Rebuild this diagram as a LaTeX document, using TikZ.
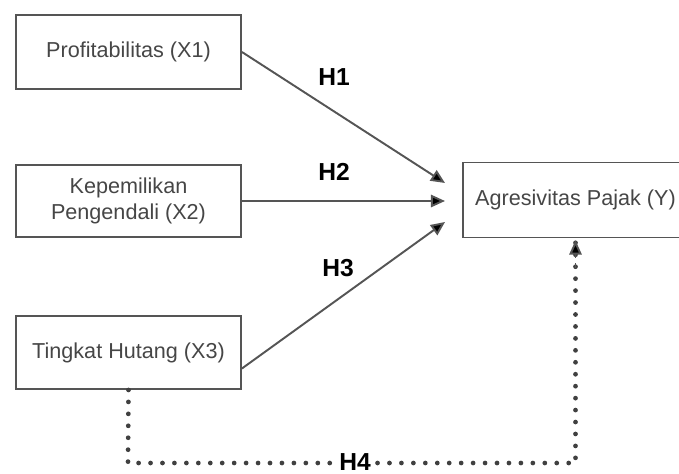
\documentclass[tikz,border=0pt]{standalone}
\usepackage{fontspec}
\setmainfont{Liberation Sans}
\usetikzlibrary{arrows.meta}
\definecolor{linegray}{RGB}{85,85,85}
\definecolor{textgray}{RGB}{70,70,70}
\tikzset{
    varbox/.style={draw=linegray, line width=1.1pt, minimum width=4.5cm, text=textgray,
        font=\fontsize{12.3}{14.5}\selectfont, align=center, inner sep=0pt},
    hlabel/.style={font=\fontsize{14}{16}\selectfont\bfseries},
    dotline/.style={draw=black!75, line width=2.7pt, line cap=round, dash pattern=on 0pt off 6.8pt},
    >={Triangle[length=8pt,width=7pt,fill=black]}
}
\begin{document}
\begin{tikzpicture}[x=0.02cm,y=-0.02cm]
            \useasboundingbox (0,0) rectangle (679,473);
            \clip (0,0) rectangle (679,473);
            \node[varbox, minimum height=1.48cm] (x1) at (128.5,52) {Profitabilitas (X1)};
            \node[varbox, minimum height=1.44cm] (x2) at (128.5,201) {Kepemilikan\\Pengendali (X2)};
            \node[varbox, minimum height=1.46cm] (x3) at (128.5,352.5) {Tingkat Hutang (X3)};
            \node[varbox, minimum height=1.5cm] (y) at (575.5,200) {Agresivitas Pajak (Y)};
            \coordinate (t1) at (445,183);
            \coordinate (t2) at (445,201);
            \coordinate (t3) at (445,222);
            \coordinate (c4) at (128,463);
            \draw[->, draw=linegray, line width=1.1pt] (x1.east) -- (t1);
            \draw[->, draw=linegray, line width=1.1pt] (x2.east) -- (t2);
            \draw[->, draw=linegray, line width=1.1pt] ([yshift=-0.32cm]x3.east) -- (t3);
            \draw[dotline] (x3.south) -- (c4) -| ([yshift=-0.06cm]y.south);
            \draw[->, draw=linegray, line width=1.1pt, dashed] ([yshift=-0.6cm]y.south) -- ([yshift=-0.04cm]y.south);
            \node[hlabel] (h1) at (334,77) {H1};
            \node[hlabel] (h2) at (334,172) {H2};
            \node[hlabel] (h3) at (338,268) {H3};
            \node[hlabel, fill=white, inner sep=1pt] (h4) at (355,462) {H4};
        \end{tikzpicture}
\end{document}
